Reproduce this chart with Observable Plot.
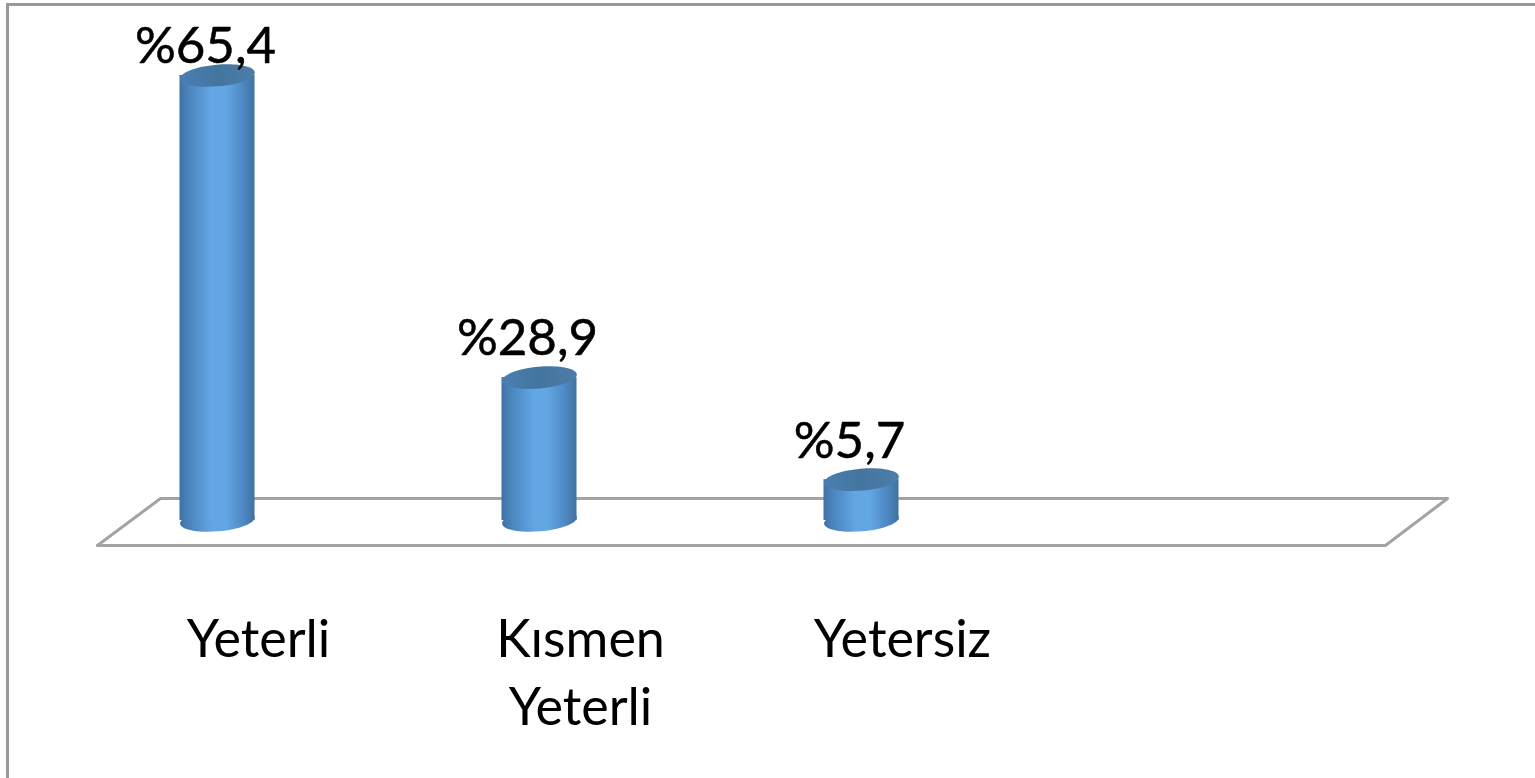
<!DOCTYPE html>
<html>
<head>
<meta charset="utf-8">
<script src="https://cdn.jsdelivr.net/npm/d3@7"></script>
<script src="https://cdn.jsdelivr.net/npm/@observablehq/plot@0.6"></script>
<style>
html,body{margin:0;padding:0;background:#fff;overflow:hidden}
svg{display:block}
</style>
</head>
<body>
<div id="chart"></div>
<script>
const categories = ["Yeterli", "Kısmen\nYeterli", "Yetersiz", ""];
const valueLabels = ["%65,4", "%28,9", "%5,7"];
// Drawn bar heights: the reference's bars are not proportional to their labels.
const barLevels = [65.4, 21.0, 6.0];
const positions = [0, 1, 2];
const floorX = [-0.373, 3.627, 3.82, -0.177, -0.373];
const floorY = [-3.67, -3.67, 3.23, 3.23, -3.67];
const floor = floorX.map((x, i) => ({x, y: floorY[i]}));
const bars = positions.map(i => ({i, value: barLevels[i], label: valueLabels[i]}));

const barHalf = 0.1165;
const ellipse = {draw(ctx, size) {
  const r = Math.sqrt(size / Math.PI), ry = r * 0.29, k = 0.5523;
  ctx.moveTo(-r, 0);
  ctx.bezierCurveTo(-r, -ry * k, -r * k, -ry, 0, -ry);
  ctx.bezierCurveTo(r * k, -ry, r, -ry * k, r, 0);
  ctx.bezierCurveTo(r, ry * k, r * k, ry, 0, ry);
  ctx.bezierCurveTo(-r * k, ry, -r, ry * k, -r, 0);
  ctx.closePath();
}};

function gradientDefs() {
  const defs = d3.create("svg:defs");
  const add = (id, stops) => {
    const g = defs.append("linearGradient").attr("id", id).attr("x1", 0).attr("x2", 1).attr("y1", 0).attr("y2", 0);
    stops.forEach(([o, c]) => g.append("stop").attr("offset", o).attr("stop-color", c));
  };
  add("cyl", [[0, "#3f72a4"], [0.12, "#4a84bd"], [0.42, "#62a6e4"], [0.62, "#62a6e4"], [0.86, "#4c86c0"], [1, "#41719f"]]);
  add("cap", [[0, "#4a7fb2"], [0.5, "#44759f"], [1, "#4b7ea9"]]);
  return defs.node();
}

const fontFamily = "Lato";
const valueText = (i, dx, dy) => Plot.text(bars.filter(d => d.i === i), {
  x: "i", y: "value", text: "label", dx, dy,
  fontSize: 51, fontFamily, fill: "#000", stroke: "#000", strokeWidth: 0.5, lineAnchor: "bottom"
});

const plot = Plot.plot({
  width: 1535,
  height: 778,
  marginLeft: 7,
  marginTop: 4,
  marginRight: 0,
  marginBottom: 233,
  style: {background: "#fff", filter: "blur(0.6px)"},
  x: {domain: [0, 3], range: [217, 1183]},
  y: {domain: [0, 65.4], range: [520, 75], axis: null},
  marks: [
    gradientDefs,
    Plot.frame({anchor: "left", stroke: "#999", strokeWidth: 3, insetBottom: -240}),
    Plot.frame({anchor: "top", stroke: "#999", strokeWidth: 3}),
    Plot.line(floor, {x: "x", y: "y", stroke: "#a3a3a3", strokeWidth: 3}),
    Plot.dot(bars, {x: "i", y: 0, r: 37.5, symbol: ellipse, rotate: -5, fill: "url(#cyl)", stroke: "none"}),
    Plot.rect(bars, {x1: d => d.i - barHalf, x2: d => d.i + barHalf, y1: 0, y2: "value", fill: "url(#cyl)", inset: 0}),
    Plot.dot(bars, {x: "i", y: "value", r: 37.5, symbol: ellipse, rotate: -5, fill: "url(#cap)", stroke: "none"}),
    valueText(0, -12, -13),
    valueText(1, -12, -23),
    valueText(2, -12, -22),
    Plot.axisX({
      ticks: positions, tickFormat: i => categories[i], tickSize: 0, tickPadding: 63, dx: 41,
      label: null, fontSize: 52, fontFamily, lineHeight: 1.31, fill: "#000", stroke: "#000", strokeWidth: 0.5, lineAnchor: "top"
    })
  ]
});
document.getElementById("chart").append(plot);
</script>
</body>
</html>
